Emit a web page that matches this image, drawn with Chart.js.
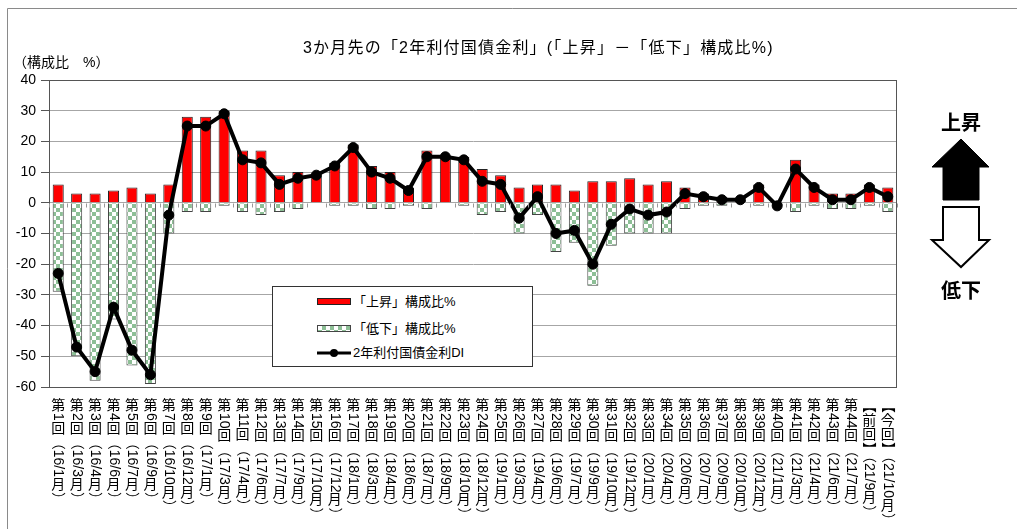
<!DOCTYPE html>
<html>
<head>
<meta charset="utf-8">
<script src="https://cdn.jsdelivr.net/npm/chart.js@4.4.1/dist/chart.umd.min.js"></script>
<style>
  html, body { margin: 0; padding: 0; background: #fff; }
  #wrap { position: relative; width: 1017px; height: 529px; overflow: hidden; font-family: "Liberation Sans", "Noto Sans CJK JP", sans-serif; }
  #c { position: absolute; left: 0; top: 0; }
  .txt { position: absolute; white-space: nowrap; color: #000; }
  #title { left: 303px; top: 34px; font-size: 16px; letter-spacing: 1.2px; }
  #unit { left: 13px; top: 51px; font-size: 14px; }
  #legend { position: absolute; left: 272px; top: 286px; width: 261px; height: 81px; border: 1px solid #333; background: #fff; box-sizing: border-box; }
  .lrow { position: absolute; left: 44px; height: 16px; font-size: 13px; line-height: 16px; }
  .lrow .s { position: absolute; left: 0; top: 4px; width: 34px; height: 7px; box-sizing: border-box; }
  .lrow .t { position: absolute; left: 36px; top: 0; white-space: nowrap; }
  #s1 { background: #ff0000; border: 1px solid #222; }
  #s2 { background: repeating-conic-gradient(#8dbf96 0 25%, #fff 0 50%) 0 0 / 8px 8px; border: 1px solid #444; }
  #arrows { position: absolute; left: 0; top: 0; }
</style>
</head>
<body>
<div id="wrap">
  <canvas id="c" width="1017" height="529"></canvas>
  <div id="title" class="txt">3か月先の「2年利付国債金利」(「上昇」－「低下」構成比%)</div>
  <div id="unit" class="txt">（構成比　%）</div>
  <div id="legend">
    <div class="lrow" style="top:7px"><div class="s" id="s1"></div><div class="t">「上昇」構成比%</div></div>
    <div class="lrow" style="top:34px"><div class="s" id="s2"></div><div class="t">「低下」構成比%</div></div>
    <div class="lrow" style="top:58px"><svg class="s" style="top:0;height:16px" width="34" height="16"><line x1="0" y1="8" x2="34" y2="8" stroke="#000" stroke-width="3"/><circle cx="17" cy="8" r="4" fill="#000"/></svg><div class="t">2年利付国債金利DI</div></div>
  </div>
  <svg id="arrows" width="1017" height="529">
    <text x="961" y="130" font-size="20" font-weight="bold" text-anchor="middle" font-family="Noto Sans CJK JP">上昇</text>
    <polygon points="961,139 989,167 979,167 979,200 943,200 943,167 932,167" fill="#000" stroke="#000" stroke-width="1"/>
    <polygon points="943,207 979,207 979,240 989,240 961,267 932,240 943,240" fill="#fff" stroke="#000" stroke-width="2"/>
    <text x="961" y="298" font-size="20" font-weight="bold" text-anchor="middle" font-family="Noto Sans CJK JP">低下</text>
  </svg>
</div>
<script>
const categories = [
  '第1回(16/1月)','第2回(16/3月)','第3回(16/4月)','第4回(16/6月)','第5回(16/7月)','第6回(16/9月)',
  '第7回(16/10月)','第8回(16/12月)','第9回(17/1月)','第10回(17/3月)','第11回(17/4月)','第12回(17/6月)',
  '第13回(17/7月)','第14回(17/9月)','第15回(17/10月)','第16回(17/12月)','第17回(18/1月)','第18回(18/3月)',
  '第19回(18/4月)','第20回(18/6月)','第21回(18/7月)','第22回(18/9月)','第23回(18/10月)','第24回(18/12月)',
  '第25回(19/1月)','第26回(19/3月)','第27回(19/4月)','第28回(19/6月)','第29回(19/7月)','第30回(19/9月)',
  '第31回(19/10月)','第32回(19/12月)','第33回(20/1月)','第34回(20/4月)','第35回(20/6月)','第36回(20/7月)',
  '第37回(20/9月)','第38回(20/10月)','第39回(20/12月)','第40回(21/1月)','第41回(21/3月)','第42回(21/4月)',
  '第43回(21/6月)','第44回(21/7月)','【前回】(21/9月)','【今回】(21/10月)'
];
const riseShare = [6,3,3,4,5,3,6,28,28,30,17,17,9,10,9,13,19,12,10,5,17,15,15,11,9,5,6,6,4,7,7,8,6,7,5,3,2,1,6,0,14,6,3,3,6,5];
const fallShare = [29,50,58,38,53,59,10,3,3,1,3,4,3,2,0,1,1,2,2,1,2,0,1,4,3,10,4,16,13,27,14,10,10,10,2,1,1,0,1,1,3,1,2,2,1,3];
const diValues  = [-23,-47,-55,-34,-48,-56,-4,25,25,29,14,13,6,8,9,12,18,10,8,4,15,15,14,7,6,-5,2,-10,-9,-20,-7,-2,-4,-3,3,2,1,1,5,-1,11,5,1,1,5,2];
const yTicks = { min: -60, max: 40, step: 10 };

function makePattern(ctx) {
  const p = document.createElement('canvas');
  p.width = 8; p.height = 8;
  const g = p.getContext('2d');
  g.fillStyle = '#ffffff'; g.fillRect(0, 0, 8, 8);
  g.fillStyle = '#8dbf96'; g.fillRect(0, 0, 4, 4); g.fillRect(4, 4, 4, 4);
  return ctx.createPattern(p, 'repeat');
}

const upright = /[\u3040-\u30ff\u4e00-\u9fff]/;

const decor = {
  id: 'decor',
  beforeDraw(chart) {
    const c = chart.ctx;
    c.save();
    c.strokeStyle = '#8a8a8a'; c.lineWidth = 1;
    c.beginPath();
    c.moveTo(7.5, 529); c.lineTo(7.5, 8.5); c.lineTo(1017, 8.5);
    c.stroke();
    c.restore();
  },
  afterDraw(chart) {
    const c = chart.ctx, xs = chart.scales.x, ys = chart.scales.y, a = chart.chartArea;
    c.save();
    c.strokeStyle = '#555'; c.lineWidth = 1;
    c.strokeRect(Math.round(a.left) + 0.5, Math.round(a.top) + 0.5, Math.round(a.right - a.left) - 1, Math.round(a.bottom - a.top));
    const y0 = Math.round(ys.getPixelForValue(0)) + 0.5;
    c.strokeStyle = '#999';
    c.beginPath();
    for (let i = 0; i <= categories.length; i++) {
      const xb = Math.round(a.left + (a.right - a.left) * i / categories.length) + 0.5;
      c.moveTo(xb, y0); c.lineTo(xb, y0 + 4);
    }
    c.stroke();
    const fs = 14;
    c.font = fs + 'px "Liberation Sans", "Noto Sans CJK JP"';
    c.fillStyle = '#000';
    categories.forEach((lab, i) => {
      const cx = xs.getPixelForValue(i);
      let y = 399;
      const shown = lab.replace('(', '（').replace(')', '）');
      const runs = shown.match(/[\u3040-\u30ff\u4e00-\u9fff]|[^\u3040-\u30ff\u4e00-\u9fff]+/g);
      runs.forEach(r => {
        if (upright.test(r)) {
          c.textAlign = 'center'; c.textBaseline = 'middle';
          c.fillText(r, cx, y + fs / 2);
          y += fs;
        } else {
          const w = c.measureText(r).width;
          c.save();
          c.translate(cx, y);
          c.rotate(Math.PI / 2);
          c.textAlign = 'left'; c.textBaseline = 'middle';
          c.fillText(r, 0, 0);
          c.restore();
          y += w + 1;
        }
      });
    });
    c.restore();
  }
};

const ctx = document.getElementById('c').getContext('2d');
const pattern = makePattern(ctx);

new Chart(ctx, {
  type: 'bar',
  data: {
    labels: categories,
    datasets: [
      {
        type: 'line', label: '2年利付国債金利DI', data: diValues,
        borderColor: '#000', borderWidth: 4, pointRadius: 5, pointBackgroundColor: '#000',
        pointBorderColor: '#000', pointBorderWidth: 1, tension: 0, order: 0
      },
      {
        label: '「上昇」構成比%', data: riseShare, backgroundColor: '#ff0000',
        borderColor: '#222', borderWidth: 1, stack: 's', order: 1,
        barPercentage: 0.6, categoryPercentage: 1
      },
      {
        label: '「低下」構成比%', data: fallShare.map(v => -v), backgroundColor: pattern,
        borderColor: '#444', borderWidth: 1, stack: 's', order: 1,
        barPercentage: 0.6, categoryPercentage: 1
      }
    ]
  },
  options: {
    responsive: false,
    animation: false,
    events: [],
    layout: { padding: { left: 0, top: 80, right: 120, bottom: 142 } },
    plugins: { legend: { display: false }, tooltip: { enabled: false }, title: { display: false } },
    scales: {
      x: {
        stacked: true, offset: true,
        ticks: { display: false },
        grid: { display: false, drawTicks: false },
        border: { display: false }
      },
      y: {
        min: yTicks.min, max: yTicks.max,
        ticks: { stepSize: yTicks.step, color: '#000', font: { family: '"Liberation Sans", Arial', size: 14 }, padding: 5 },
        grid: { color: '#a6a6a6', tickLength: 8, tickColor: '#555', lineWidth: 1 },
        border: { display: true, color: '#555' },
        afterFit(scale) { scale.width = 49; }
      }
    }
  },
  plugins: [decor]
});
</script>
</body>
</html>
